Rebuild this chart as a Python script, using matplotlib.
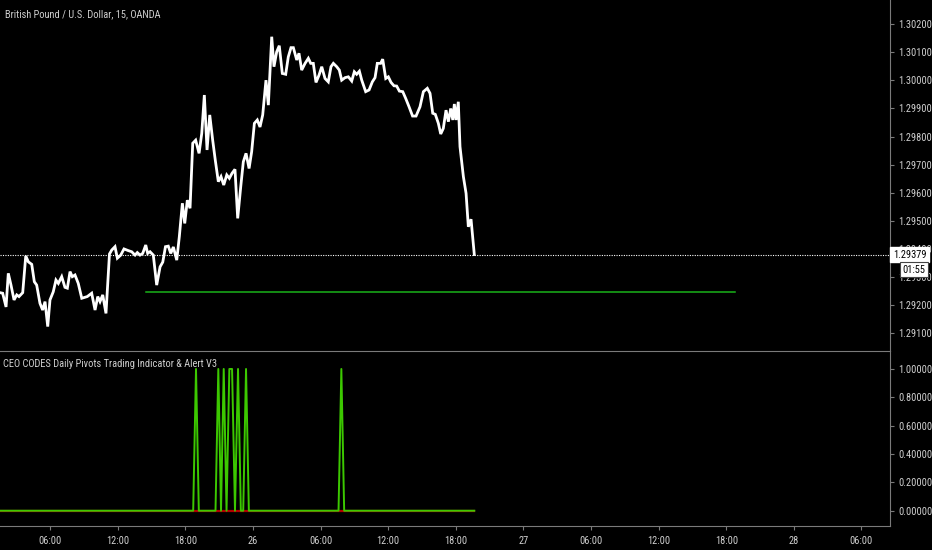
import matplotlib
matplotlib.use("Agg")
import matplotlib.pyplot as plt

plt.rcParams['font.family'] = ['Roboto Condensed', 'PT Sans Narrow', 'Liberation Sans Narrow', 'DejaVu Sans']

# GBP/USD 15 min, heures depuis le 25 00:00
hours = [1.54, 1.78, 2.08, 2.28, 2.52, 2.79, 3.03, 3.23, 3.56, 3.83,
         4.06, 4.36, 4.59, 4.80, 5.09, 5.33, 5.54, 5.78, 5.98, 6.27,
         6.51, 6.72, 7.02, 7.31, 7.52, 7.76, 7.96, 8.20, 8.49, 8.80,
         9.29, 9.68, 9.98, 10.22, 10.42, 10.66, 10.95, 11.26, 11.46, 11.75,
         11.96, 12.26, 12.55, 12.93, 13.23, 13.53, 13.73, 13.97, 14.21, 14.48,
         14.65, 14.86, 15.15, 15.45, 15.75, 15.99, 16.23, 16.48, 16.70, 16.93,
         17.23, 17.46, 17.73, 17.94, 18.17, 18.41, 18.65, 18.91, 19.21, 19.45,
         19.68, 19.92, 20.16, 20.42, 20.65, 20.92, 21.16, 21.40, 21.67, 21.90,
         22.14, 22.40, 22.64, 22.91, 23.14, 23.38, 23.65, 23.88, 24.12, 24.38,
         24.62, 24.86, 25.15, 25.36, 25.66, 25.86, 26.10, 26.33, 26.60, 26.90,
         27.13, 27.37, 27.58, 27.88, 28.08, 28.32, 28.62, 28.91, 29.12, 29.35,
         29.59, 29.86, 30.10, 30.39, 30.68, 30.92, 31.13, 31.43, 31.66, 31.87,
         32.17, 32.46, 32.76, 32.99, 33.20, 33.44, 33.65, 34.00, 34.30, 34.59,
         34.83, 35.03, 35.33, 35.51, 35.78, 36.01, 36.25, 36.51, 36.75, 36.99,
         37.29, 37.55, 37.85, 38.16, 38.47, 38.82, 39.12, 39.47, 39.71, 39.95,
         40.18, 40.45, 40.66, 40.89, 41.13, 41.34, 41.55, 41.73, 41.87, 42.02,
         42.22, 42.37, 42.67, 42.91, 43.11, 43.35, 43.64]

prices = [1.29243, 1.29241, 1.29192, 1.29312, 1.29270, 1.29217, 1.29235, 1.29229, 1.29243, 1.29374,
          1.29353, 1.29344, 1.29282, 1.29270, 1.29205, 1.29181, 1.29211, 1.29122, 1.29217, 1.29246,
          1.29288, 1.29276, 1.29300, 1.29262, 1.29259, 1.29318, 1.29300, 1.29306, 1.29276, 1.29223,
          1.29229, 1.29241, 1.29181, 1.29229, 1.29211, 1.29235, 1.29169, 1.29381, 1.29395, 1.29407,
          1.29366, 1.29377, 1.29399, 1.29393, 1.29389, 1.29377, 1.29386, 1.29377, 1.29383, 1.29413,
          1.29383, 1.29389, 1.29377, 1.29270, 1.29335, 1.29352, 1.29407, 1.29409, 1.29383, 1.29406,
          1.29359, 1.29443, 1.29562, 1.29490, 1.29573, 1.29544, 1.29776, 1.29787, 1.29740, 1.29811,
          1.29948, 1.29752, 1.29877, 1.29787, 1.29716, 1.29639, 1.29657, 1.29627, 1.29663, 1.29651,
          1.29669, 1.29683, 1.29508, 1.29621, 1.29710, 1.29740, 1.29686, 1.29746, 1.29847, 1.29859,
          1.29834, 1.29877, 1.30001, 1.29912, 1.30156, 1.30049, 1.30102, 1.30124, 1.30025, 1.30022,
          1.30084, 1.30117, 1.30117, 1.30073, 1.30097, 1.30037, 1.30061, 1.30079, 1.30061, 1.30061,
          1.29993, 1.30019, 1.30049, 1.30007, 1.29995, 1.30049, 1.30061, 1.30049, 1.30037, 1.30001,
          1.30010, 1.30013, 1.29998, 1.30031, 1.30022, 1.30033, 1.30001, 1.29960, 1.29966, 1.29995,
          1.30010, 1.30061, 1.30061, 1.30076, 1.30007, 1.30013, 1.29993, 1.29981, 1.29980, 1.29962,
          1.29960, 1.29936, 1.29906, 1.29873, 1.29873, 1.29906, 1.29960, 1.29972, 1.29954, 1.29883,
          1.29879, 1.29847, 1.29809, 1.29829, 1.29894, 1.29853, 1.29900, 1.29859, 1.29916, 1.29859,
          1.29924, 1.29764, 1.29657, 1.29597, 1.29478, 1.29505, 1.29379]

last_price = 1.29379
countdown = "01:55"

# Pivot journalier
pivot_level = 1.29245
pivot_start, pivot_end = 14.5, 66.75

# Indicateur (0 / 1)
ind_hours = [1.54, 18.69, 18.94, 19.19, 20.67, 20.92, 21.16, 21.40, 21.65, 21.90,
             22.14, 22.40, 22.67, 22.92, 23.13, 23.38, 23.63, 31.59, 31.84, 32.09, 43.64]
ind_values = [0, 0, 1, 0, 0, 1, 0, 1, 0, 1,
              1, 0, 1, 0, 0, 1, 0, 0, 1, 0, 0]

tick_hours = [6, 12, 18, 24, 30, 36, 42, 48, 54, 60, 66, 72, 78]
tick_labels = ["06:00", "12:00", "18:00", "26", "06:00", "12:00", "18:00",
               "27", "06:00", "12:00", "18:00", "28", "06:00"]

price_ticks = [1.291, 1.292, 1.293, 1.294, 1.295, 1.296, 1.297, 1.298, 1.299, 1.300, 1.301, 1.302]
ind_ticks = [0.0, 0.2, 0.4, 0.6, 0.8, 1.0]

bg = "black"
grid_col = "#7a7a7a"
txt_col = "#cfcfcf"

fig = plt.figure(figsize=(9.32, 5.5), dpi=100, facecolor=bg)
ax = fig.add_axes([0, 0.3624, 0.955, 0.6376], facecolor=bg)
ax2 = fig.add_axes([0, 0.0436, 0.955, 0.3188], facecolor=bg, sharex=ax)

x_min, x_max = 1.544, 80.54

# Prix
ax.plot(hours, prices, color="white", lw=2.0, solid_joinstyle="miter")
ax.plot([pivot_start, pivot_end], [pivot_level, pivot_level], color="#19b219", lw=1.1)
ax.axhline(last_price, color="white", lw=0.8, ls=(0, (1, 1.2)))
ax.set_ylim(1.29036, 1.30287)
ax.set_xlim(x_min, x_max)
ax.set_yticks(price_ticks)
ax.set_yticklabels(["%.5f" % p for p in price_ticks])
ax.text(0.006, 0.975, "British Pound / U.S. Dollar, 15, OANDA", transform=ax.transAxes,
        color=txt_col, fontsize=7.5, va="top", ha="left")

# Etiquettes du dernier prix
ax.annotate("%.5f" % last_price, xy=(1.0, last_price), xycoords=("axes fraction", "data"),
            xytext=(2, 0), textcoords="offset points", color="black", fontsize=7.5,
            va="center", ha="left",
            bbox=dict(boxstyle="square,pad=0.25", fc="white", ec="white"), zorder=10,
            annotation_clip=False)
ax.annotate(countdown, xy=(1.0, last_price), xycoords=("axes fraction", "data"),
            xytext=(9, -11), textcoords="offset points", color="black", fontsize=7.5,
            va="center", ha="left",
            bbox=dict(boxstyle="square,pad=0.25", fc="white", ec="#444444", lw=0.8), zorder=10,
            annotation_clip=False)

# Indicateur
ax2.axhline(0, xmin=0, xmax=(43.64 - x_min) / (x_max - x_min), color="#b00000", lw=1.6)
ax2.plot(ind_hours, ind_values, color="#3cc800", lw=1.4)
ax2.set_ylim(-0.108, 1.129)
ax2.set_yticks(ind_ticks)
ax2.set_yticklabels(["%.5f" % v for v in ind_ticks])
ax2.text(0.003, 0.955, "CEO CODES Daily Pivots Trading Indicator & Alert V3", transform=ax2.transAxes,
         color=txt_col, fontsize=7.5, va="top", ha="left")

ax2.set_xticks(tick_hours)
ax2.set_xticklabels(tick_labels)

for a in (ax, ax2):
    a.spines["left"].set_visible(False)
    a.spines["right"].set_color(grid_col)
    a.spines["top"].set_color(grid_col)
    a.spines["bottom"].set_color(grid_col)
    a.yaxis.tick_right()
    a.tick_params(axis="y", colors=txt_col, labelsize=7.5, length=3, width=0.8, pad=3)
    a.tick_params(axis="y", color=grid_col)
    a.tick_params(axis="x", colors=txt_col, labelsize=7.5, length=3, width=0.8, pad=4)
    a.tick_params(axis="x", color=grid_col)

ax.spines["top"].set_visible(False)
ax.spines["bottom"].set_visible(False)
ax.tick_params(axis="x", bottom=False, labelbottom=False)

fig.savefig("out.png", dpi=100, facecolor=bg)
